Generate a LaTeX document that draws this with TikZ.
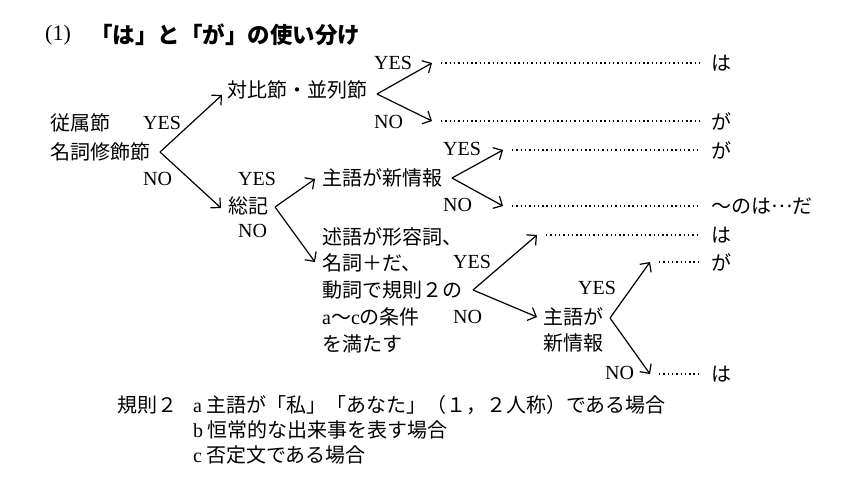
\documentclass[tikz,border=0pt]{standalone}
\usepackage{fontspec}
\setmainfont{Liberation Serif}
\newfontfamily\jp{Noto Sans CJK JP}
\usetikzlibrary{arrows.meta}
\begin{document}
\begin{tikzpicture}[x=1pt,y=-1pt,
  jt/.style={inner sep=0pt, anchor=west, font={\jp\fontsize{20}{24}\selectfont}},
  yn/.style={inner sep=0pt, anchor=west, font={\fontsize{20}{24}\selectfont}},
  arr/.style={line width=1.2pt, -{Straight Barb[length=7pt,width=14pt]}},
  dots/.style={line width=1.5pt, dash pattern=on 1.4pt off 2.9pt, shorten <=9pt, shorten >=11pt},
]
\useasboundingbox (0,0) rectangle (853,493);

% title
\node[inner sep=0pt, anchor=west, font={\fontsize{22}{26}\selectfont}] (num) at (45,35) {(1)};
\node[inner sep=0pt, anchor=west, font={\jp\bfseries\fontsize{22.5}{26}\selectfont}] (title) at (90,35) {「は」と「が」の使い分け};

% level 0
\node[jt] (juzoku) at (50,123) {従属節};
\node[jt] (meishi) at (50,152) {名詞修飾節};
\node[yn] (y0) at (143,123) {YES};
\node[yn] (n0) at (143,179) {NO};
\coordinate (v0) at (160,152);
\coordinate (t0a) at (222,95);
\coordinate (t0b) at (221,208);

% level 1 upper
\node[jt] (taihi) at (227,90) {対比節・並列節};
\coordinate (v1) at (377,94);
\node[yn] (y1) at (374,63) {YES};
\node[yn] (n1) at (374,122) {NO};
\coordinate (t1a) at (432,63);
\coordinate (t1b) at (432,121);
\node[jt] (a1) at (711,63) {は};
\node[jt] (a2) at (711,121) {が};

% level 1 lower
\node[jt] (soki) at (228,206) {総記};
\node[yn] (y2) at (238,179) {YES};
\node[yn] (n2) at (238,231) {NO};
\coordinate (v2) at (275,207);
\coordinate (t2a) at (315,179);
\coordinate (t2b) at (315,262);

% shugo ga shinjoho
\node[jt] (shugo) at (322,178) {主語が新情報};
\coordinate (v3) at (452,178);
\node[yn] (y3) at (443,149) {YES};
\node[yn] (n3) at (443,205) {NO};
\coordinate (t3a) at (503,150);
\coordinate (t3b) at (503,206);
\node[jt] (a3) at (711,150) {が};
\node[jt] (a4) at (711,206) {〜のは\raisebox{6pt}{…}だ};

% jutsugo block
\node[jt, align=left, font={\jp\fontsize{20}{26.8}\selectfont}] (jutsugo) at (322,290)
  {述語が形容詞、\\名詞＋だ、\\動詞で規則２の\\{\rmfamily a}〜{\rmfamily c}の条件\\を満たす};
\node[yn] (y4) at (453,262) {YES};
\node[yn] (n4) at (453,317) {NO};
\coordinate (v4) at (473,290);
\coordinate (t4a) at (537,235);
\coordinate (t4b) at (537,317);
\node[jt] (a5) at (711,235) {は};

% shugo ga / shinjoho
\node[jt, align=left, font={\jp\fontsize{20}{26}\selectfont}] (shugo2) at (543,330) {主語が\\新情報};
\coordinate (v5) at (610,318);
\node[yn] (y5) at (578,288) {YES};
\node[yn] (n5) at (605,373) {NO};
\coordinate (t5a) at (650,262);
\coordinate (t5b) at (650,374);
\node[jt] (a6) at (711,262) {が};
\node[jt] (a7) at (711,374) {は};

% arrows
\draw[arr] (v0) -- (t0a);
\draw[arr] (v0) -- (t0b);
\draw[arr] (v1) -- (t1a);
\draw[arr] (v1) -- (t1b);
\draw[arr] (v2) -- (t2a);
\draw[arr] (v2) -- (t2b);
\draw[arr] (v3) -- (t3a);
\draw[arr] (v3) -- (t3b);
\draw[arr] (v4) -- (t4a);
\draw[arr] (v4) -- (t4b);
\draw[arr] (v5) -- (t5a);
\draw[arr] (v5) -- (t5b);

% dotted leaders
\draw[dots] (t1a) -- (a1.west);
\draw[dots] (t1b) -- (a2.west);
\draw[dots] (t3a) -- (a3.west);
\draw[dots] (t3b) -- (a4.west);
\draw[dots] (t4a) -- (a5.west);
\draw[dots] (t5a) -- (a6.west);
\draw[dots] (t5b) -- (a7.west);

% rule 2
\node[jt] (kisoku) at (117,405) {規則２};
\node[jt] (ra) at (193,405) {{\rmfamily a}\hspace{4pt}主語が「私」「あなた」（１，２人称）である場合};
\node[jt] (rb) at (193,430) {{\rmfamily b}\hspace{4pt}恒常的な出来事を表す場合};
\node[jt] (rc) at (193,455) {{\rmfamily c}\hspace{4pt}否定文である場合};
\end{tikzpicture}
\end{document}
